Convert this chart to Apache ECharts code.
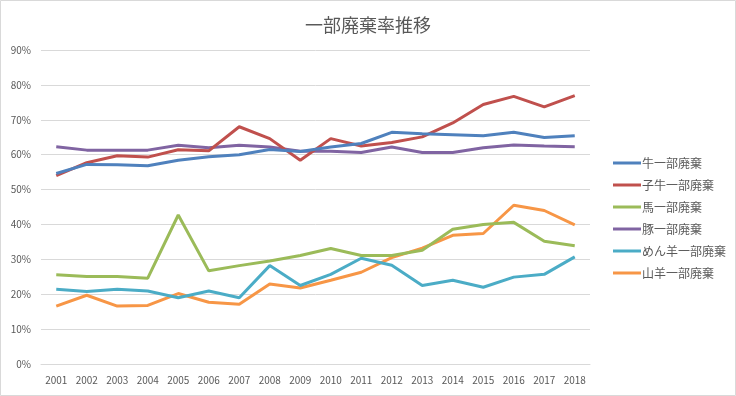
<!DOCTYPE html>
<html>
<head>
<meta charset="utf-8">
<script src="https://cdn.jsdelivr.net/npm/echarts@6/dist/echarts.min.js"></script>
<style>
  html, body { margin: 0; padding: 0; background: #fff; }
  #main { width: 736px; height: 396px; }
</style>
</head>
<body>
<div id="main"></div>
<script>
// 年
var years = ['2001','2002','2003','2004','2005','2006','2007','2008','2009','2010','2011','2012','2013','2014','2015','2016','2017','2018'];
// 各系列 (%)
var ushi   = [54.6, 57.2, 57.1, 56.8, 58.4, 59.4, 60.0, 61.5, 60.9, 62.2, 63.2, 66.4, 66.0, 65.7, 65.4, 66.4, 64.9, 65.4];
var koushi = [54.0, 57.7, 59.7, 59.3, 61.4, 61.1, 68.0, 64.6, 58.4, 64.6, 62.5, 63.5, 65.1, 69.1, 74.4, 76.7, 73.7, 76.9];
var uma    = [25.6, 25.1, 25.1, 24.6, 42.7, 26.7, 28.2, 29.5, 31.1, 33.1, 31.1, 31.1, 32.6, 38.6, 40.0, 40.6, 35.2, 33.9];
var buta   = [62.3, 61.3, 61.3, 61.3, 62.7, 62.0, 62.7, 62.2, 61.0, 61.0, 60.6, 62.2, 60.6, 60.6, 62.0, 62.8, 62.5, 62.3];
var menyo  = [21.4, 20.8, 21.4, 20.9, 19.0, 20.9, 19.0, 28.2, 22.5, 25.7, 30.3, 28.3, 22.5, 24.0, 22.0, 24.9, 25.7, 30.7];
var yagi   = [16.6, 19.7, 16.6, 16.8, 20.2, 17.7, 17.1, 22.9, 21.8, 24.0, 26.3, 30.5, 33.2, 36.9, 37.4, 45.5, 44.0, 39.9];

var names = ['牛一部廃棄', '子牛一部廃棄', '馬一部廃棄', '豚一部廃棄', 'めん羊一部廃棄', '山羊一部廃棄'];
var colors = ['#4F81BD', '#C0504D', '#9BBB59', '#8064A2', '#4BACC6', '#F79646'];
var values = [ushi, koushi, uma, buta, menyo, yagi];

var font = '"Noto Sans CJK JP", sans-serif';
var chart = echarts.init(document.getElementById('main'), null, { renderer: 'canvas' });

var series = names.map(function (n, i) {
    return {
        name: n,
        type: 'line',
        data: values[i],
        symbol: 'none',
        lineStyle: { width: 3, color: colors[i] },
        itemStyle: { color: colors[i] },
        z: 10 - i
    };
});

var option = {
    backgroundColor: '#ffffff',
    animation: false,
    color: colors,
    title: {
        text: '一部廃棄率推移',
        left: 'center',
        top: 11,
        textStyle: { fontFamily: font, fontSize: 18, fontWeight: 'normal', color: '#595959' }
    },
    legend: {
        orient: 'vertical',
        left: 608,
        top: 151,
        icon: 'rect',
        itemWidth: 28,
        itemHeight: 3,
        itemGap: 8,
        data: names,
        textStyle: { fontFamily: font, fontSize: 12, color: '#595959', lineHeight: 14, padding: [0, 0, 0, -4] }
    },
    grid: {
        left: 41,
        right: 146,
        top: 50,
        bottom: 32,
        containLabel: false
    },
    xAxis: {
        type: 'category',
        data: years,
        boundaryGap: true,
        axisLine: { lineStyle: { color: '#d9d9d9' } },
        axisTick: { show: false },
        axisLabel: { fontFamily: font, fontSize: 10, color: '#595959', margin: 11 }
    },
    yAxis: {
        type: 'value',
        min: 0,
        max: 90,
        interval: 10,
        axisLine: { show: false },
        axisTick: { show: false },
        splitLine: { lineStyle: { color: '#d9d9d9' } },
        axisLabel: { fontFamily: font, fontSize: 10, color: '#595959', margin: 10, formatter: '{value}%' }
    },
    graphic: [{
        type: 'rect',
        shape: { x: 0.5, y: 0.5, width: 735, height: 395 },
        style: { fill: 'none', stroke: '#d9d9d9', lineWidth: 1 },
        silent: true
    }],
    series: series
};

chart.setOption(option);
</script>
</body>
</html>
